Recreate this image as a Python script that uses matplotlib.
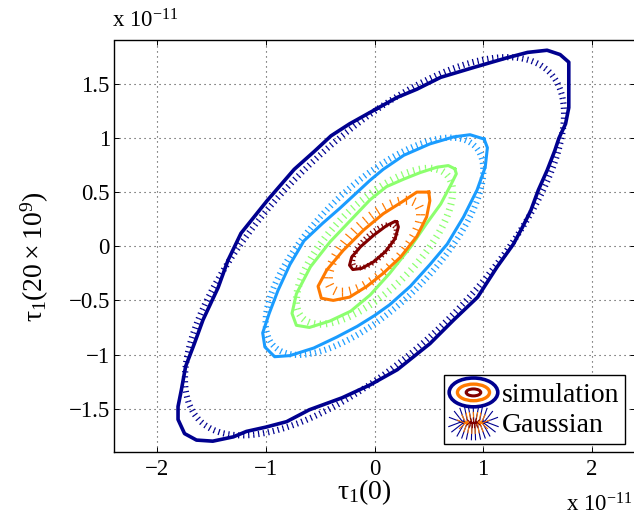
import numpy as np
import matplotlib
matplotlib.use("Agg")
import matplotlib.pyplot as plt
from matplotlib import patheffects as pe
from matplotlib.legend_handler import HandlerBase
from matplotlib.patches import Ellipse
from matplotlib.lines import Line2D

plt.rcParams.update({
    "font.family": ["Liberation Serif", "DejaVu Serif"],
    "mathtext.fontset": "custom",
    "mathtext.rm": "Liberation Serif",
    "mathtext.it": "Liberation Serif:italic",
    "mathtext.default": "regular",
})

# ---- simulated contour lines (units of 1e-11 s) ----
sim_navy_x = [0.02, 0.21, 0.39, 0.61, 0.91, 1.22, 1.41, 1.59, 1.71, 1.79, 1.79, 1.79, 1.76, 1.70,
              1.66, 1.59, 1.51, 1.44, 1.36, 1.28, 1.13, 0.95, 0.73, 0.51, 0.21, -0.04, -0.30,
              -0.60, -0.81, -1.00, -1.18, -1.30, -1.49, -1.64, -1.75, -1.81, -1.81, -1.78, -1.74,
              -1.66, -1.58, -1.44, -1.35, -1.23, -0.99, -0.74, -0.55, -0.40, -0.23, 0.02]
sim_navy_y = [1.27, 1.375, 1.45, 1.56, 1.65, 1.74, 1.79, 1.81, 1.77, 1.70, 1.53, 1.28, 1.13, 1.00,
              0.88, 0.70, 0.52, 0.33, 0.17, 0.02, -0.19, -0.47, -0.68, -0.90, -1.14, -1.28, -1.40,
              -1.51, -1.62, -1.67, -1.71, -1.76, -1.80, -1.79, -1.73, -1.60, -1.48, -1.33, -1.11,
              -0.90, -0.68, -0.38, -0.13, 0.12, 0.42, 0.71, 0.88, 1.02, 1.13, 1.27]

sim_blue_x = [1.01, 1.04, 1.02, 0.945, 0.82, 0.67, 0.51, 0.33, 0.14, 0.00, -0.16, -0.35, -0.56,
              -0.78, -0.92, -1.01, -1.03, -0.97, -0.89, -0.78, -0.65, -0.48, -0.32, -0.18, -0.04,
              0.08, 0.27, 0.51, 0.73, 0.88, 1.01]
sim_blue_y = [0.99, 0.91, 0.73, 0.52, 0.27, 0.02, -0.17, -0.37, -0.54, -0.64, -0.74, -0.84, -0.94,
              -1.01, -1.02, -0.93, -0.80, -0.62, -0.41, -0.17, 0.05, 0.21, 0.35, 0.48, 0.61,
              0.71, 0.84, 0.945, 1.01, 1.03, 0.99]

sim_green_x = [0.74, 0.754, 0.71, 0.61, 0.48, 0.33, 0.14, -0.04, -0.22, -0.41, -0.60, -0.72,
               -0.76, -0.72, -0.59, -0.41, -0.22, -0.04, 0.11, 0.27, 0.42, 0.575, 0.68, 0.74]
sim_green_y = [0.715, 0.669, 0.58, 0.39, 0.21, -0.01, -0.25, -0.45, -0.60, -0.69, -0.75, -0.73,
               -0.62, -0.44, -0.19, 0.04, 0.24, 0.43, 0.55, 0.62, 0.68, 0.73, 0.745, 0.715]

sim_orange_x = [0.50, 0.51, 0.48, 0.39, 0.24, 0.08, -0.07, -0.23, -0.38, -0.49, -0.52, -0.44,
                -0.29, -0.10, 0.08, 0.27, 0.39, 0.50]
sim_orange_y = [0.50, 0.42, 0.27, 0.09, -0.10, -0.25, -0.37, -0.47, -0.50, -0.48, -0.37, -0.22,
                -0.04, 0.15, 0.30, 0.42, 0.50, 0.50]

sim_red_x = [0.205, 0.22, 0.19, 0.10, -0.01, -0.12, -0.20, -0.23, -0.21, -0.13, -0.01, 0.11,
             0.19, 0.205]
sim_red_y = [0.224, 0.178, 0.07, -0.05, -0.145, -0.205, -0.215, -0.175, -0.10, -0.006, 0.10,
             0.19, 0.23, 0.224]

# ---- fitted bivariate Gaussian ----
gauss_sigma = 0.59          # std. dev. of each coordinate (1e-11 s)
gauss_rho = 0.70            # correlation coefficient
gauss_radii = [2.96, 1.70, 1.22, 0.72, 0.34]   # Mahalanobis radius of each contour

level_colors = ["#00008f", "#1a9cff", "#8cff6e", "#ff7a00", "#800000"]
tick_spacing = [3.6, 3.6, 4.3, 5.5, 3.0]
tick_length = [0.62, 0.62, 0.6, 0.6, 0.6]

sims = [(sim_navy_x, sim_navy_y), (sim_blue_x, sim_blue_y), (sim_green_x, sim_green_y),
        (sim_orange_x, sim_orange_y), (sim_red_x, sim_red_y)]
sim_widths = [2.6, 2.2, 2.2, 2.2, 2.2]

x_ticks = [-2, -1, 0, 1, 2]
y_ticks = [-1.5, -1, -0.5, 0, 0.5, 1, 1.5]
x_limits = (-2.4, 2.4)
y_limits = (-1.9, 1.9)

fig = plt.figure(figsize=(6.34, 5.17), dpi=100)
ax = fig.add_axes([114 / 634, 1 - 452 / 517, 521 / 634, 411.5 / 517])


def ticked(sp, ln, lw):
    # short strokes crossing the path on both sides, no continuous line
    return [pe.TickedStroke(angle=90, spacing=sp, length=ln, linewidth=lw),
            pe.TickedStroke(angle=-90, spacing=sp, length=ln, linewidth=lw)]


gx = np.linspace(x_limits[0], x_limits[1], 481)
gy = np.linspace(y_limits[0], y_limits[1], 381)
GX, GY = np.meshgrid(gx, gy)
maha = np.sqrt((GX ** 2 - 2 * gauss_rho * GX * GY + GY ** 2)
               / (gauss_sigma ** 2 * (1 - gauss_rho ** 2)))

for r, c, sp, ln in zip(gauss_radii, level_colors, tick_spacing, tick_length):
    cs = ax.contour(GX, GY, maha, levels=[r], colors=[c], linewidths=0.9)
    cs.set_path_effects(ticked(sp, ln, 0.9))

for (sx, sy), c, lw in zip(sims, level_colors, sim_widths):
    ax.plot(sx, sy, color=c, lw=lw, solid_joinstyle="round", zorder=3)

ax.set_xlim(*x_limits)
ax.set_ylim(*y_limits)
ax.set_xticks(x_ticks)
ax.set_yticks(y_ticks)
ax.set_xticklabels(["\u22122", "\u22121", "0", "1", "2"])
ax.set_yticklabels(["\u22121.5", "\u22121", "\u22120.5", "0", "0.5", "1", "1.5"])
ax.tick_params(direction="in", length=3.6, width=0.7, top=True, right=True,
               labelsize=16.5)
ax.tick_params(axis="x", pad=5)
ax.tick_params(axis="y", pad=3)
ax.grid(True, linestyle=(0, (1, 3.5)), color="#404040", linewidth=0.8)
for s in ax.spines.values():
    s.set_linewidth(1.0)

ax.set_xlabel(r"$\tau_1(0)$", fontsize=20)
ax.xaxis.set_label_coords((364 - 114) / 521, -(492 - 452) / 411.5)
ax.xaxis.label.set_va("center")
ax.set_ylabel(r"$\tau_1(20\times10^9)$", fontsize=20)
ax.yaxis.set_label_coords(-(114 - 35) / 521, (452 - 257) / 411.5)
ax.yaxis.label.set_va("center")

fig.text(112 / 634, 1 - 28 / 517, r"x 10$^{-11}$", fontsize=16.5, ha="left", va="baseline")
fig.text(632 / 634, 1 - 511 / 517, r"x 10$^{-11}$", fontsize=16.5, ha="right", va="baseline")


class SimHandler(HandlerBase):
    def create_artists(self, legend, orig_handle, xdescent, ydescent, width, height,
                       fontsize, trans):
        cx, cy = width / 2 - xdescent, height / 2 - ydescent
        out = []
        for fw, fh, c, lw in [(1.0, 1.25, level_colors[0], 2.6),
                              (0.66, 0.72, level_colors[3], 2.4),
                              (0.3, 0.3, level_colors[4], 2.2)]:
            out.append(Ellipse((cx, cy), width * fw, height * fh, fill=False,
                               edgecolor=c, lw=lw, transform=trans))
        return out


class GaussHandler(HandlerBase):
    def create_artists(self, legend, orig_handle, xdescent, ydescent, width, height,
                       fontsize, trans):
        cx, cy = width / 2 - xdescent, height / 2 - ydescent
        out = []
        for fw, fh, c, sp, ln in [(0.72, 0.8, level_colors[0], 2.6, 2.3),
                                  (0.46, 0.46, level_colors[3], 2.2, 1.9),
                                  (0.2, 0.2, level_colors[4], 1.4, 1.6)]:
            e = Ellipse((cx, cy), width * fw, height * fh, fill=False,
                        edgecolor=c, lw=0.8, transform=trans)
            e.set_path_effects(ticked(sp, ln, 0.8))
            out.append(e)
        return out


sim_proxy = Line2D([], [])
gauss_proxy = Line2D([], [])
leg = ax.legend([sim_proxy, gauss_proxy], ["simulation", "Gaussian"],
                handler_map={sim_proxy: SimHandler(), gauss_proxy: GaussHandler()},
                loc="lower right", bbox_to_anchor=((625 - 114) / 521, (452 - 444) / 411.5),
                borderaxespad=0, fontsize=20, handlelength=1.75, handleheight=0.9,
                handletextpad=0.15, borderpad=0.2, labelspacing=0.12, fancybox=False,
                framealpha=1, edgecolor="black")
leg.get_frame().set_linewidth(1.0)

fig.savefig("out.png", dpi=100)
